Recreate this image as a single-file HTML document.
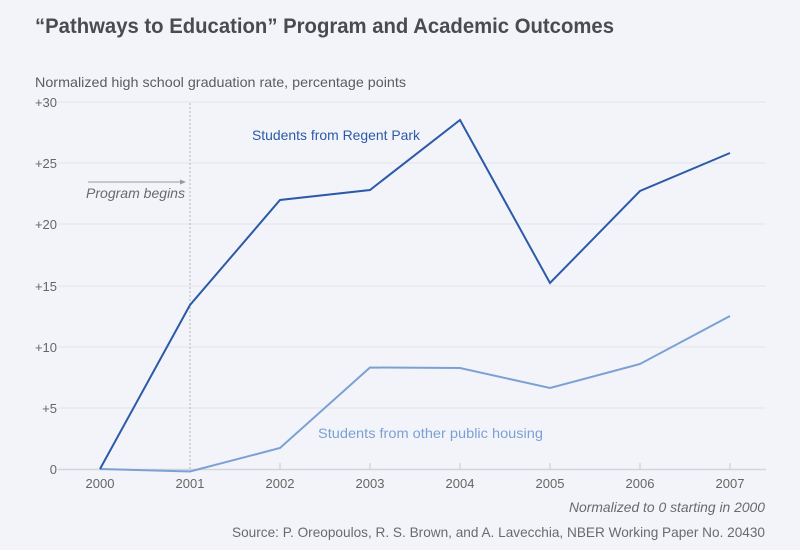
<!DOCTYPE html>
<html><head><meta charset="utf-8"><style>
html,body{margin:0;padding:0;background:#f3f4f9;}
svg{display:block;}
text{font-family:"Liberation Sans",sans-serif;}
</style></head><body>
<svg width="800" height="550" viewBox="0 0 800 550" xmlns="http://www.w3.org/2000/svg">
<rect width="800" height="550" fill="#f3f4f9"/>
<text x="35" y="33" font-size="21" font-weight="bold" fill="#4a4a4f" textLength="579" lengthAdjust="spacingAndGlyphs">“Pathways to Education” Program and Academic Outcomes</text>
<text x="35" y="87" font-size="14" fill="#5c5c60" textLength="371" lengthAdjust="spacingAndGlyphs">Normalized high school graduation rate, percentage points</text>
<g stroke="#e3e5ec" stroke-width="1">
<line x1="58" y1="102" x2="766" y2="102"/>
<line x1="58" y1="163" x2="766" y2="163"/>
<line x1="58" y1="224" x2="766" y2="224"/>
<line x1="58" y1="286" x2="766" y2="286"/>
<line x1="58" y1="347" x2="766" y2="347"/>
<line x1="58" y1="408" x2="766" y2="408"/>
</g>
<g font-size="13" fill="#666" text-anchor="end">
<text x="57" y="107">+30</text>
<text x="57" y="168">+25</text>
<text x="57" y="229">+20</text>
<text x="57" y="291">+15</text>
<text x="57" y="352">+10</text>
<text x="57" y="413">+5</text>
<text x="57" y="474">0</text>
</g>
<line x1="190" y1="103" x2="190" y2="469" stroke="#b5b8c2" stroke-width="1" stroke-dasharray="2,2"/>
<line x1="88" y1="182" x2="182" y2="182" stroke="#9a9a9e" stroke-width="1"/>
<polygon points="186,182 180,179.5 180,184.5" fill="#9a9a9e"/>
<text x="185" y="198" font-size="14" font-style="italic" fill="#6a6a6e" text-anchor="end" textLength="99" lengthAdjust="spacingAndGlyphs">Program begins</text>
<line x1="58" y1="469.5" x2="766" y2="469.5" stroke="#d3d5dc" stroke-width="1.5"/>
<g stroke="#c8cad2" stroke-width="1">
<line x1="280" y1="463" x2="280" y2="469"/>
<line x1="370" y1="463" x2="370" y2="469"/>
<line x1="460" y1="463" x2="460" y2="469"/>
<line x1="550" y1="463" x2="550" y2="469"/>
<line x1="640" y1="463" x2="640" y2="469"/>
<line x1="730" y1="463" x2="730" y2="469"/>
</g>
<g font-size="13" fill="#666" text-anchor="middle">
<text x="100" y="488">2000</text>
<text x="190" y="488">2001</text>
<text x="280" y="488">2002</text>
<text x="370" y="488">2003</text>
<text x="460" y="488">2004</text>
<text x="550" y="488">2005</text>
<text x="640" y="488">2006</text>
<text x="730" y="488">2007</text>
</g>
<polyline fill="none" stroke="#7ba1d4" stroke-width="2" stroke-linejoin="miter" points="100,469 190,471.5 280,448 370,367.5 460,368 550,388 640,364 730,316"/>
<polyline fill="none" stroke="#2c5aa8" stroke-width="2" stroke-linejoin="miter" points="100,469 190,305 280,200 370,190 460,120 550,283 640,191 730,153"/>
<text x="252" y="140" font-size="14" fill="#2c5aa8" textLength="168" lengthAdjust="spacingAndGlyphs">Students from Regent Park</text>
<text x="318" y="438" font-size="14" fill="#7ba1d4" textLength="225" lengthAdjust="spacingAndGlyphs">Students from other public housing</text>
<text x="765" y="512" font-size="14" font-style="italic" fill="#6a6a6e" text-anchor="end" textLength="196" lengthAdjust="spacingAndGlyphs">Normalized to 0 starting in 2000</text>
<text x="765" y="537" font-size="14" fill="#6a6a6e" text-anchor="end" textLength="533" lengthAdjust="spacingAndGlyphs">Source: P. Oreopoulos, R. S. Brown, and A. Lavecchia, NBER Working Paper No. 20430</text>
</svg>
</body></html>
